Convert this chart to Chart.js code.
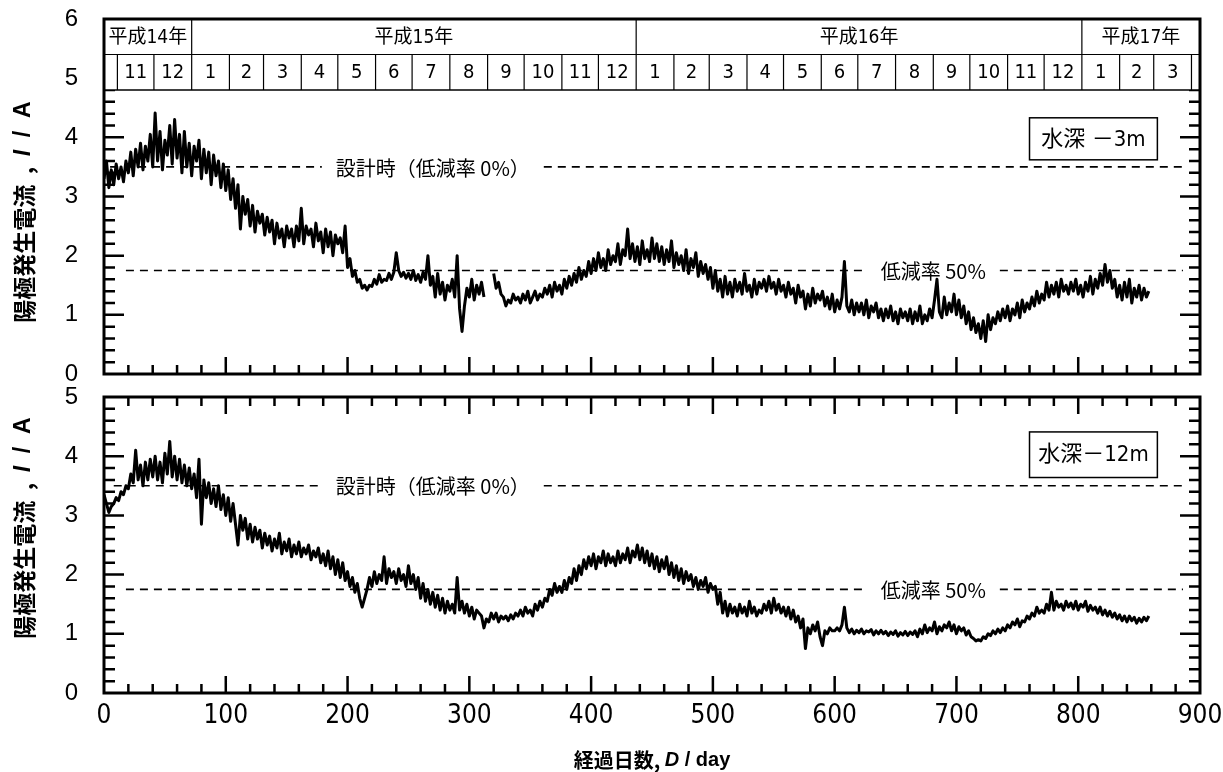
<!DOCTYPE html>
<html lang="ja">
<head>
<meta charset="utf-8">
<title>陽極発生電流の経時変化</title>
<script src="https://cdn.jsdelivr.net/npm/chart.js@4.4.1/dist/chart.umd.min.js"></script>
<style>
  html, body { margin: 0; padding: 0; background: #fff; }
  body { width: 1223px; height: 772px; position: relative; overflow: hidden; }
  .panel { position: absolute; left: 0; width: 1223px; }
  #top { top: 0; height: 390px; }
  #bottom { top: 380px; height: 392px; }
</style>
</head>
<body>
<div class="panel" id="top"><canvas id="chartTop"></canvas></div>
<div class="panel" id="bottom"><canvas id="chartBottom"></canvas></div>
<script>
// measurement every 2 days, day 0 = 2002-10-21
const dayStep = 2;

// 水深 -3m
const current3m = [
  3.3, 3.6, 3.15, 3.45, 3.2, 3.55, 3.3, 3.5, 3.25, 3.6,
  3.4, 3.75, 3.35, 3.8, 3.5, 3.9, 3.45, 3.85, 3.6, 4.05,
  3.5, 4.41, 3.6, 4.1, 3.45, 3.95, 3.7, 4.2, 3.55, 4.3,
  3.65, 4.05, 3.4, 4.1, 3.5, 3.9, 3.35, 3.85, 3.6, 3.95,
  3.3, 3.8, 3.4, 3.75, 3.2, 3.7, 3.35, 3.6, 3.15, 3.55,
  3.1, 3.45, 2.95, 3.3, 2.8, 3.2, 2.45, 3.0, 2.7, 2.95,
  2.5, 2.85, 2.4, 2.75, 2.55, 2.7, 2.35, 2.65, 2.4, 2.6,
  2.2, 2.55, 2.3, 2.45, 2.15, 2.5, 2.3, 2.45, 2.15, 2.5,
  2.25, 2.8, 2.2, 2.5, 2.35, 2.45, 2.15, 2.55, 2.25, 2.4,
  2.05, 2.45, 2.15, 2.4, 2.0, 2.35, 2.2, 2.3, 2.05, 2.5,
  1.8, 1.95, 1.65, 1.75, 1.55, 1.6, 1.45, 1.5, 1.42, 1.5,
  1.48, 1.6, 1.52, 1.68, 1.55, 1.6, 1.58, 1.7, 1.6, 1.72,
  2.05, 1.75, 1.65, 1.72, 1.62, 1.7, 1.6, 1.75, 1.58, 1.68,
  1.55, 1.72, 1.6, 2.0, 1.5, 1.65, 1.3, 1.7, 1.35, 1.55,
  1.25, 1.5, 1.4, 1.6, 1.3, 2.0, 1.1, 0.72, 1.15, 1.45,
  1.3, 1.6, 1.25, 1.5, 1.35, 1.55, 1.3, null, null, null,
  1.7, 1.45, 1.55, 1.35, 1.3, 1.15, 1.25, 1.2, 1.35, 1.25,
  1.3, 1.2, 1.35, 1.25, 1.4, 1.2, 1.3, 1.4, 1.25, 1.35,
  1.3, 1.45, 1.35, 1.5, 1.3, 1.55, 1.4, 1.5, 1.35, 1.6,
  1.45, 1.65, 1.5, 1.7, 1.55, 1.8, 1.6, 1.75, 1.65, 1.9,
  1.7, 1.95, 1.75, 2.05, 1.8, 1.95, 1.75, 2.1, 1.85, 2.0,
  1.9, 2.2, 1.85, 2.1, 2.0, 2.45, 1.95, 2.2, 1.9, 2.15,
  1.85, 2.25, 1.95, 2.1, 1.9, 2.3, 1.95, 2.2, 1.9, 2.15,
  1.85, 2.1, 1.9, 2.25, 1.8, 2.05, 1.85, 2.0, 1.75, 2.1,
  1.7, 1.95, 1.8, 2.05, 1.65, 1.9, 1.7, 1.85, 1.6, 1.8,
  1.45, 1.75, 1.4, 1.6, 1.3, 1.65, 1.35, 1.55, 1.3, 1.6,
  1.4, 1.55, 1.35, 1.7, 1.4, 1.5, 1.3, 1.6, 1.35, 1.55,
  1.45, 1.6, 1.4, 1.65, 1.45, 1.55, 1.35, 1.6, 1.4, 1.5,
  1.3, 1.55, 1.35, 1.45, 1.2, 1.5, 1.3, 1.4, 1.1, 1.35,
  1.15, 1.45, 1.2, 1.35, 1.25, 1.4, 1.15, 1.3, 1.1, 1.35,
  1.05, 1.25, 1.1, 1.3, 1.9, 1.15, 1.05, 1.25, 1.0, 1.2,
  1.05, 1.2, 1.0, 1.25, 0.95, 1.15, 1.05, 1.2, 0.95, 1.1,
  0.9, 1.1, 0.95, 1.15, 0.9, 1.05, 0.85, 1.1, 0.95, 1.05,
  0.9, 1.1, 0.85, 1.05, 0.9, 1.15, 0.85, 1.0, 0.9, 1.1,
  0.95, 1.25, 1.6, 1.05, 0.95, 1.3, 1.0, 1.2, 1.05, 1.35,
  1.0, 1.25, 0.95, 1.15, 0.85, 1.05, 0.75, 0.95, 0.7, 0.85,
  0.6, 0.9, 0.55, 1.0, 0.75, 0.95, 0.85, 1.05, 0.9, 1.1,
  0.95, 1.15, 0.9, 1.1, 1.0, 1.2, 0.95, 1.25, 1.05, 1.2,
  1.1, 1.3, 1.15, 1.4, 1.2, 1.35, 1.25, 1.55, 1.3, 1.5,
  1.35, 1.55, 1.3, 1.6, 1.4, 1.5, 1.35, 1.55, 1.4, 1.6,
  1.35, 1.5, 1.3, 1.55, 1.4, 1.65, 1.35, 1.6, 1.45, 1.7,
  1.5, 1.85, 1.55, 1.75, 1.45, 1.6, 1.3, 1.5, 1.25, 1.55,
  1.3, 1.6, 1.2, 1.45, 1.3, 1.5, 1.25, 1.45, 1.3, 1.4
];

// 水深 -12m
const current12m = [
  3.35, 3.2, 3.05, 3.15, 3.2, 3.3, 3.25, 3.4, 3.35, 3.5,
  3.45, 3.7, 3.55, 4.1, 3.6, 3.85, 3.5, 3.9, 3.6, 3.95,
  3.65, 4.0, 3.6, 3.9, 3.55, 4.05, 3.7, 4.25, 3.65, 4.0,
  3.6, 3.95, 3.55, 3.85, 3.5, 3.8, 3.45, 3.7, 3.3, 3.95,
  2.85, 3.6, 3.3, 3.55, 3.2, 3.45, 3.15, 3.5, 3.1, 3.35,
  3.0, 3.3, 2.9, 3.2, 2.85, 2.5, 3.0, 2.75, 2.95, 2.6,
  2.85, 2.55, 2.8, 2.6, 2.75, 2.45, 2.7, 2.5, 2.65, 2.4,
  2.6, 2.45, 2.7, 2.35, 2.55, 2.4, 2.6, 2.3, 2.5, 2.35,
  2.55, 2.3, 2.45, 2.35, 2.5, 2.25, 2.4, 2.3, 2.45, 2.2,
  2.35, 2.15, 2.4, 2.1, 2.3, 2.0, 2.25, 1.95, 2.2, 1.9,
  2.05, 1.8, 1.95, 1.7, 1.85, 1.6, 1.45, 1.6, 1.75, 1.95,
  1.8, 2.05, 1.85, 2.0, 1.9, 2.3, 1.85, 2.1, 1.95, 2.05,
  1.85, 2.1, 1.9, 2.0, 1.8, 2.15, 1.85, 2.0, 1.75, 1.95,
  1.6, 1.85, 1.55, 1.75, 1.5, 1.7, 1.45, 1.65, 1.4, 1.6,
  1.35, 1.55, 1.4, 1.5, 1.35, 1.95, 1.4, 1.55, 1.35, 1.5,
  1.3, 1.45, 1.25, 1.4, 1.35, 1.3, 1.1, 1.25, 1.2, 1.35,
  1.25, 1.35, 1.2, 1.3, 1.25, 1.3, 1.22, 1.32, 1.25, 1.35,
  1.3, 1.4, 1.3, 1.45, 1.35, 1.4, 1.3, 1.5, 1.4, 1.55,
  1.45, 1.6, 1.55, 1.75, 1.65, 1.85, 1.7, 1.8, 1.7, 1.9,
  1.75, 1.95, 1.85, 2.1, 1.9, 2.15, 2.0, 2.25, 2.1, 2.3,
  2.15, 2.35, 2.1, 2.3, 2.2, 2.4, 2.15, 2.35, 2.2, 2.3,
  2.15, 2.4, 2.2, 2.35, 2.25, 2.45, 2.2, 2.4, 2.3, 2.5,
  2.25, 2.45, 2.2, 2.4, 2.15, 2.35, 2.1, 2.3, 2.05, 2.25,
  2.1, 2.3, 2.0, 2.2, 1.95, 2.15, 1.9, 2.1, 1.85, 2.05,
  1.9, 2.0, 1.8, 1.95, 1.75, 1.9, 1.8, 1.95, 1.7, 1.85,
  1.75, 1.8, 1.5, 1.7, 1.35, 1.55, 1.3, 1.5, 1.35, 1.45,
  1.3, 1.5, 1.35, 1.45, 1.3, 1.55, 1.35, 1.45, 1.3, 1.4,
  1.35, 1.5, 1.4, 1.55, 1.35, 1.6, 1.4, 1.5, 1.35, 1.45,
  1.3, 1.45, 1.25, 1.4, 1.2, 1.3, 1.1, 1.25, 0.75, 1.1,
  1.0, 1.15, 1.05, 1.2, 0.95, 0.8, 1.05, 1.0, 1.1, 1.05,
  1.05, 1.1, 1.05, 1.15, 1.45, 1.1, 1.02, 1.08, 1.0, 1.06,
  1.02, 1.08, 1.0, 1.05, 1.03, 1.07, 0.98, 1.05, 1.0, 1.06,
  1.0, 1.04, 0.97, 1.03, 0.99, 1.05, 0.96, 1.02, 0.98, 1.04,
  0.97, 1.03, 0.99, 1.05, 0.95, 1.08, 1.0, 1.15, 1.02, 1.1,
  1.05, 1.2, 1.0, 1.12, 1.05, 1.15, 1.1, 1.2, 1.05, 1.15,
  1.0, 1.12, 1.05, 1.1, 0.98, 1.05, 0.95, 0.92, 0.88, 0.9,
  0.88, 0.95, 0.92, 1.0, 0.97, 1.05, 1.0, 1.08, 1.02, 1.1,
  1.05, 1.15, 1.1, 1.2, 1.15, 1.25, 1.12, 1.22, 1.2, 1.3,
  1.25, 1.35, 1.3, 1.45, 1.35, 1.4, 1.35, 1.5, 1.4, 1.7,
  1.4, 1.55, 1.45, 1.5, 1.4, 1.55, 1.45, 1.52, 1.42, 1.55,
  1.4, 1.5, 1.45, 1.55, 1.38, 1.48, 1.4, 1.45, 1.35, 1.45,
  1.32, 1.4, 1.3, 1.38, 1.28, 1.35, 1.25, 1.32, 1.22, 1.3,
  1.2, 1.3, 1.22, 1.28, 1.18, 1.26, 1.2, 1.28, 1.22, 1.3
];

// reference levels (A)
const designCurrent = 3.5;   // 設計時
const halfCurrent = 1.75;    // 低減率 50%

// calendar strip along the top
const startDate = [2002, 10, 21];
const firstMonth = [2002, 11];
const headerMonths = [11, 12, 1, 2, 3, 4, 5, 6, 7, 8, 9, 10, 11, 12,
                      1, 2, 3, 4, 5, 6, 7, 8, 9, 10, 11, 12, 1, 2, 3];
const headerYears = ['平成14年', '平成15年', '平成16年', '平成17年'];

const xMax = 900;
const CJK = "'Noto Sans CJK JP', 'Noto Sans CJK SC', sans-serif";
const NARROW = "'Liberation Sans Narrow', 'DejaVu Sans Condensed', " + CJK;

function dayOf(y, m, d) {
  const t0 = Date.UTC(startDate[0], startDate[1] - 1, startDate[2]);
  return Math.round((Date.UTC(y, m - 1, d) - t0) / 864e5);
}

// first day of each month in the strip, plus the month after the last one
const monthEdges = [];
for (let i = 0; i <= headerMonths.length; i++) {
  monthEdges.push(dayOf(firstMonth[0], firstMonth[1] + i, 1));
}

function toPoints(values) {
  return values.map((v, i) => ({ x: i * dayStep, y: v }));
}

function hline(ctx, x0, x1, y) {
  ctx.beginPath(); ctx.moveTo(x0, y); ctx.lineTo(x1, y); ctx.stroke();
}
function vline(ctx, x, y0, y1) {
  ctx.beginPath(); ctx.moveTo(x, y0); ctx.lineTo(x, y1); ctx.stroke();
}

// text made of runs with their own fonts, centred on (cx, cy)
function drawRuns(ctx, runs, cx, cy, angle) {
  ctx.save();
  ctx.translate(cx, cy);
  ctx.rotate(angle || 0);
  let total = 0;
  runs.forEach(r => { ctx.font = r[1]; total += ctx.measureText(r[0]).width; });
  let x = -total / 2;
  ctx.textBaseline = 'middle';
  ctx.textAlign = 'left';
  ctx.fillStyle = '#000';
  runs.forEach(r => {
    ctx.font = r[1];
    ctx.fillText(r[0], x, 0);
    x += ctx.measureText(r[0]).width;
  });
  ctx.restore();
}

function drawGuide(chart, value, from, to, label, labelAt) {
  const { ctx, scales: { x, y } } = chart;
  const py = y.getPixelForValue(value);
  const cx = x.getPixelForValue(labelAt);
  ctx.save();
  ctx.font = '20px ' + CJK;
  const w = ctx.measureText(label).width;
  ctx.strokeStyle = '#000';
  ctx.lineWidth = 1.6;
  ctx.setLineDash([8, 6]);
  hline(ctx, x.getPixelForValue(from), cx - w / 2 - 14, py);
  hline(ctx, cx + w / 2 + 14, x.getPixelForValue(to), py);
  ctx.setLineDash([]);
  ctx.fillStyle = '#000';
  ctx.textAlign = 'center';
  ctx.textBaseline = 'middle';
  ctx.fillText(label, cx, py + 1);
  ctx.restore();
}

function drawTicks(chart, yTop, ticksOnTop) {
  const { ctx, chartArea: a, scales: { x, y } } = chart;
  ctx.save();
  ctx.strokeStyle = '#000';
  ctx.lineWidth = 2.5;
  ctx.beginPath();
  for (let d = 20; d < xMax; d += 20) {
    const px = x.getPixelForValue(d);
    const len = d % 100 === 0 ? 17 : 9;
    ctx.moveTo(px, a.bottom); ctx.lineTo(px, a.bottom - len);
    if (ticksOnTop) { ctx.moveTo(px, a.top); ctx.lineTo(px, a.top + len); }
  }
  for (let k = 1; k < yTop * 5; k++) {
    const py = y.getPixelForValue(k / 5);
    const len = k % 5 === 0 ? 20 : 11;
    ctx.moveTo(a.left, py); ctx.lineTo(a.left + len, py);
    ctx.moveTo(a.right, py); ctx.lineTo(a.right - len, py);
  }
  ctx.stroke();
  ctx.restore();
}

function drawHeader(chart) {
  const { ctx, chartArea: a, scales: { x, y } } = chart;
  const yTop = y.getPixelForValue(6);
  const yMid = y.getPixelForValue(5.4);
  const yBot = y.getPixelForValue(4.8);
  ctx.save();
  ctx.fillStyle = '#fff';
  ctx.fillRect(a.left, yTop, a.right - a.left, yBot - yTop);
  ctx.strokeStyle = '#000';
  ctx.lineWidth = 1.2;
  hline(ctx, a.left, a.right, yMid);
  ctx.lineWidth = 1.6;
  hline(ctx, a.left, a.right, yBot);
  ctx.lineWidth = 1.2;
  ctx.fillStyle = '#000';
  ctx.textAlign = 'center';
  ctx.textBaseline = 'middle';

  // month row
  ctx.font = '20px ' + NARROW;
  headerMonths.forEach((m, i) => {
    const x0 = x.getPixelForValue(monthEdges[i]);
    const x1 = x.getPixelForValue(Math.min(monthEdges[i + 1], xMax));
    vline(ctx, x0, yMid, yBot);
    ctx.fillText(String(m), (x0 + x1) / 2, (yMid + yBot) / 2 + 1);
  });
  const lastEdge = monthEdges[monthEdges.length - 1];
  if (lastEdge < xMax) vline(ctx, x.getPixelForValue(lastEdge), yMid, yBot);

  // year row, split at every January
  const yearEdges = [0];
  headerMonths.forEach((m, i) => { if (m === 1) yearEdges.push(monthEdges[i]); });
  yearEdges.push(xMax);
  ctx.font = '19px ' + NARROW;
  headerYears.forEach((label, i) => {
    const x0 = x.getPixelForValue(yearEdges[i]);
    const x1 = x.getPixelForValue(yearEdges[i + 1]);
    if (i > 0) vline(ctx, x0, yTop, yMid);
    ctx.fillText(label, (x0 + x1) / 2, (yTop + yMid) / 2 + 1);
  });
  ctx.restore();
}

function drawBox(chart, text, d0, d1, v0, v1) {
  const { ctx, scales: { x, y } } = chart;
  const x0 = x.getPixelForValue(d0), x1 = x.getPixelForValue(d1);
  const y0 = y.getPixelForValue(v1), y1 = y.getPixelForValue(v0);
  ctx.save();
  ctx.fillStyle = '#fff';
  ctx.fillRect(x0, y0, x1 - x0, y1 - y0);
  ctx.strokeStyle = '#000';
  ctx.lineWidth = 1.5;
  ctx.strokeRect(x0, y0, x1 - x0, y1 - y0);
  ctx.fillStyle = '#000';
  ctx.font = '22px ' + NARROW;
  ctx.textAlign = 'center';
  ctx.textBaseline = 'middle';
  ctx.fillText(text, (x0 + x1) / 2, (y0 + y1) / 2 + 1);
  ctx.restore();
}

function drawFrame(chart) {
  const { ctx, chartArea: a } = chart;
  ctx.save();
  ctx.strokeStyle = '#000';
  ctx.lineWidth = 3;
  ctx.strokeRect(a.left, a.top, a.right - a.left, a.bottom - a.top);
  ctx.restore();
}

const yTitleRuns = [
  ['陽極発生電流  ,  ', 'bold 23px ' + CJK],
  ['I', 'italic bold 23px "Liberation Sans"'],
  ['  /  A', 'bold 23px "Liberation Sans"']
];

function makePanel(canvasId, cfg) {
  const panelPlugin = {
    id: 'panel_' + canvasId,
    // pin the plot area to fixed pixel rows so both panels share one scale
    afterLayout(chart) {
      const a = chart.chartArea;
      const { x, y } = chart.scales;
      a.top = cfg.areaTop;
      a.bottom = cfg.areaBottom;
      a.height = a.bottom - a.top;
      y.top = a.top;
      y.bottom = a.bottom;
      y.height = a.height;
      y.configure();
      const h = x.height;
      x.top = a.bottom;
      x.bottom = a.bottom + h;
      x.configure();
    },
    beforeDatasetsDraw(chart) {
      drawGuide(chart, designCurrent, cfg.guideFrom[0], 886, '設計時（低減率 0%）', 270);
      drawGuide(chart, halfCurrent, cfg.guideFrom[1], 886, '低減率 50%', 681);
    },
    afterDatasetsDraw(chart) {
      drawTicks(chart, cfg.yMax, !cfg.header);
      if (cfg.header) drawHeader(chart);
      drawBox(chart, cfg.boxText, 760, 865, cfg.box[0], cfg.box[1]);
      drawFrame(chart);
    },
    afterDraw(chart) {
      drawRuns(chart.ctx, yTitleRuns, 24, cfg.titleY, -Math.PI / 2);
      if (cfg.xTitle) {
        const a = chart.chartArea;
        drawRuns(chart.ctx, [
          ['経過日数, ', 'bold 20px ' + CJK],
          ['D', 'italic bold 20px "Liberation Sans"'],
          [' / day', 'bold 20px "Liberation Sans"']
        ], (a.left + a.right) / 2, cfg.xTitleY, 0);
      }
    }
  };

  return new Chart(document.getElementById(canvasId), {
    type: 'line',
    data: {
      datasets: [{
        data: toPoints(cfg.values),
        borderColor: '#000',
        borderWidth: 3,
        borderJoinStyle: 'round',
        pointRadius: 0,
        tension: 0,
        spanGaps: false
      }]
    },
    options: {
      responsive: true,
      maintainAspectRatio: false,
      animation: false,
      events: [],
      layout: { padding: { left: 0, right: 23, top: 0, bottom: 0 } },
      plugins: { legend: { display: false }, tooltip: { enabled: false } },
      scales: {
        x: {
          type: 'linear',
          min: 0,
          max: xMax,
          ticks: {
            display: cfg.xLabels,
            stepSize: 100,
            padding: 0,
            color: '#000',
            font: { family: NARROW, size: 26 }
          },
          grid: { display: false },
          border: { display: false },
          afterFit(s) { s.height = 30; }
        },
        y: {
          min: 0,
          max: cfg.yMax,
          ticks: {
            stepSize: 1,
            padding: 18,
            color: '#000',
            font: { family: 'Liberation Sans', size: 24 }
          },
          grid: { display: false },
          border: { display: false },
          afterFit(s) { s.width = 104; }
        }
      }
    },
    plugins: [panelPlugin]
  });
}

makePanel('chartTop', {
  values: current3m,
  yMax: 6,
  header: true,
  areaTop: 19,
  areaBottom: 374,
  xLabels: false,
  titleY: 212,
  boxText: '水深 －3m',
  box: [3.62, 4.33],
  guideFrom: [5, 18]
});

makePanel('chartBottom', {
  values: current12m,
  yMax: 5,
  header: false,
  areaTop: 17,
  areaBottom: 313,
  xLabels: true,
  xTitle: true,
  xTitleY: 380,
  titleY: 148,
  boxText: '水深－12m',
  box: [3.64, 4.41],
  guideFrom: [8, 18]
});
</script>
</body>
</html>
